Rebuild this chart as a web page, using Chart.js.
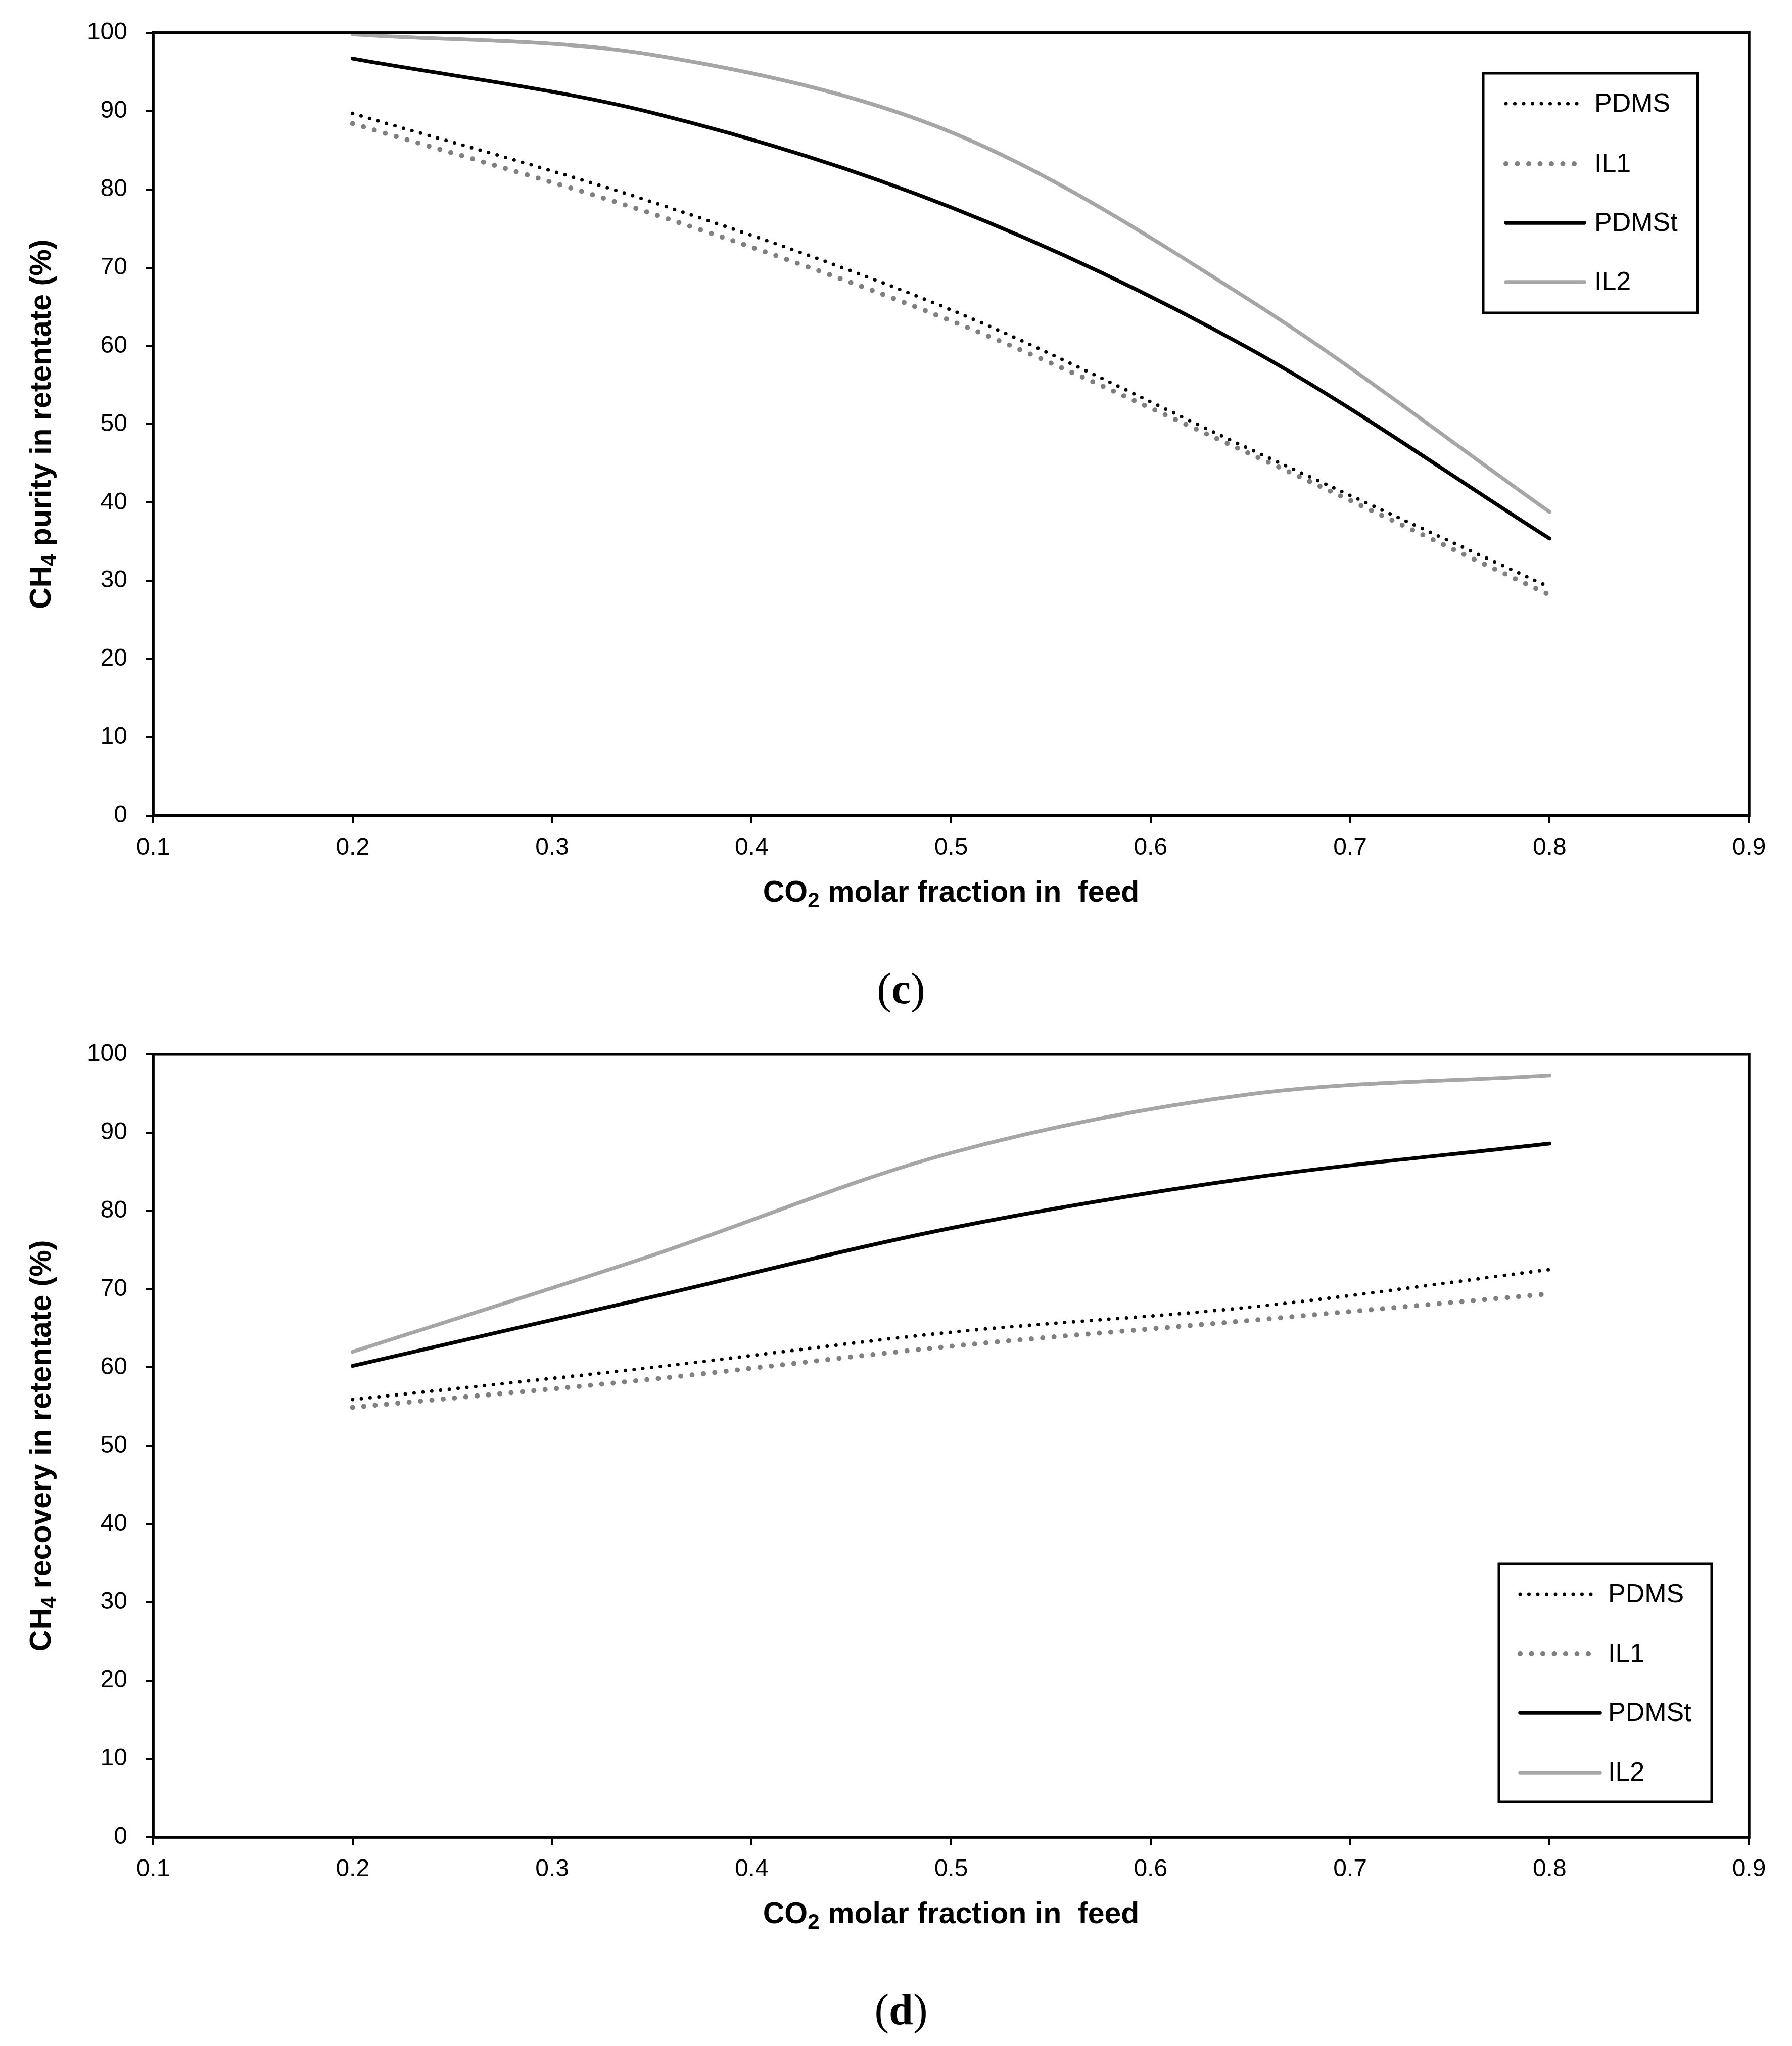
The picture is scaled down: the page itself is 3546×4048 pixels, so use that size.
<!DOCTYPE html>
<html>
<head>
<meta charset="utf-8">
<script src="https://cdn.jsdelivr.net/npm/chart.js@4.4.1/dist/chart.umd.min.js"></script>
<style>
    html, body { margin: 0; padding: 0; background: #fff; }
    body { width: 3546px; height: 4048px; position: relative; overflow: hidden; }
    .panel { position: absolute; left: 0; width: 3546px; height: 1880px; }
    .panel canvas { display: block; }
    .tag {
        position: absolute; width: 400px; margin-left: -200px; text-align: center;
        font-family: "Liberation Serif", "Times New Roman", serif;
        font-size: 86px; line-height: 86px; color: #000;
    }
</style>
</head>
<body>
<div class="panel" style="top:0"><canvas id="purityChart" width="3546" height="1880"></canvas></div>
<div class="tag" style="left:1783px; top:1913px">(<b>c</b>)</div>
<div class="panel" style="top:2021px"><canvas id="recoveryChart" width="3546" height="1880"></canvas></div>
<div class="tag" style="left:1783px; top:3933px">(<b>d</b>)</div>

<script>
// --- Data ---
const co2Fraction = [0.2, 0.35, 0.5, 0.65, 0.8];
const seriesNames = ['PDMS', 'IL1', 'PDMSt', 'IL2'];

const purityPDMS  = [89.7, 78.4, 64.6, 46.8, 29.2];
const purityIL1   = [88.4, 76.9, 63.2, 46.2, 28.2];
const purityPDMSt = [96.7, 89.8, 77.7, 59.6, 35.4];
const purityIL2   = [99.8, 97.2, 87.3, 65.8, 38.8];

const recoveryPDMS  = [55.9, 60.0, 64.5, 67.7, 72.5];
const recoveryIL1   = [54.9, 58.5, 62.7, 66.0, 69.4];
const recoveryPDMSt = [60.2, 69.0, 77.8, 84.2, 88.6];
const recoveryIL2   = [62.0, 74.3, 87.4, 94.9, 97.3];

const xTickValues = [0.1, 0.2, 0.3, 0.4, 0.5, 0.6, 0.7, 0.8, 0.9];
const xTickLabels = ['0.1', '0.2', '0.3', '0.4', '0.5', '0.6', '0.7', '0.8', '0.9'];
const yTickValues = [0, 10, 20, 30, 40, 50, 60, 70, 80, 90, 100];
const yTickLabels = ['0', '10', '20', '30', '40', '50', '60', '70', '80', '90', '100'];

// --- Styles ---
const SANS = '"Liberation Sans", Arial, Helvetica, sans-serif';
const seriesStyles = [
    { borderColor: '#000000', borderWidth: 7, borderDash: [0, 17.5] },
    { borderColor: '#808080', borderWidth: 10, borderDash: [0, 22.5] },
    { borderColor: '#000000', borderWidth: 7.5, borderDash: [] },
    { borderColor: '#a6a6a6', borderWidth: 7.5, borderDash: [] },
];

// draws text made of parts, some of them subscript, centred on cx, baseline at by
function drawSubText(ctx, parts, cx, by) {
    const mainFont = 'bold 59px ' + SANS;
    const subFont = 'bold 42px ' + SANS;
    let total = 0;
    parts.forEach(p => {
        ctx.font = p.sub ? subFont : mainFont;
        p.w = ctx.measureText(p.t).width;
        total += p.w;
    });
    let x = cx - total / 2;
    ctx.fillStyle = '#000';
    ctx.textAlign = 'left';
    ctx.textBaseline = 'alphabetic';
    parts.forEach(p => {
        ctx.font = p.sub ? subFont : mainFont;
        ctx.fillText(p.t, x, p.sub ? by + 11 : by);
        x += p.w;
    });
}

// plot frame and axis titles
const frameTitles = {
    id: 'frameTitles',
    afterDraw(chart, args, opts) {
        const { ctx, chartArea: a } = chart;
        ctx.save();
        ctx.setLineDash([]);
        ctx.strokeStyle = '#000';
        ctx.lineWidth = 5.5;
        ctx.strokeRect(a.left, a.top, a.right - a.left, a.bottom - a.top);
        drawSubText(ctx, opts.xTitle, (a.left + a.right) / 2, a.bottom + opts.xTitleBaseline);
        ctx.translate(opts.yTitleBaseline, (a.top + a.bottom) / 2);
        ctx.rotate(-Math.PI / 2);
        drawSubText(ctx, opts.yTitle, 0, 0);
        ctx.restore();
    }
};

// boxed legend inside the plot
const boxLegend = {
    id: 'boxLegend',
    afterDraw(chart, args, opts) {
        const ctx = chart.ctx;
        ctx.save();
        ctx.setLineDash([]);
        ctx.strokeStyle = '#000';
        ctx.lineWidth = 5;
        ctx.strokeRect(opts.left, opts.top, opts.width, opts.height);
        chart.data.datasets.forEach((ds, i) => {
            const y = opts.rows[i];
            const dotted = ds.borderDash.length > 0;
            ctx.beginPath();
            ctx.lineWidth = ds.borderWidth;
            ctx.strokeStyle = ds.borderColor;
            ctx.lineCap = 'round';
            ctx.setLineDash(ds.borderDash);
            ctx.moveTo(opts.lineStart, y);
            ctx.lineTo(dotted ? opts.lineStart + opts.dotLength : opts.lineStart + opts.lineLength, y);
            ctx.stroke();
            ctx.setLineDash([]);
            ctx.fillStyle = '#000';
            ctx.font = '52px ' + SANS;
            ctx.textAlign = 'left';
            ctx.textBaseline = 'middle';
            ctx.fillText(ds.label, opts.textX, y + 2);
        });
        ctx.restore();
    }
};

function makeChart(canvasId, values, yTitle, legend) {
    const datasets = values.map((vals, i) => ({
        label: seriesNames[i],
        data: vals.map((v, j) => ({ x: co2Fraction[j], y: v })),
        borderColor: seriesStyles[i].borderColor,
        borderWidth: seriesStyles[i].borderWidth,
        borderDash: seriesStyles[i].borderDash,
        borderCapStyle: 'round',
        pointRadius: 0,
        tension: 0.33,
        fill: false,
    }));

    return new Chart(document.getElementById(canvasId), {
        type: 'line',
        data: { datasets },
        plugins: [frameTitles, boxLegend],
        options: {
            responsive: false,
            animation: false,
            devicePixelRatio: 1,
            layout: { padding: { top: 63.5, right: 85, bottom: 0, left: 0 } },
            plugins: {
                legend: { display: false },
                tooltip: { enabled: false },
                frameTitles: {
                    xTitle: [{ t: 'CO' }, { t: '2', sub: true }, { t: ' molar fraction in  feed' }],
                    xTitleBaseline: 170,
                    yTitle: yTitle,
                    yTitleBaseline: 100,
                },
                boxLegend: legend,
            },
            scales: {
                x: {
                    type: 'linear',
                    min: 0.1,
                    max: 0.9,
                    afterBuildTicks: axis => { axis.ticks = xTickValues.map(v => ({ value: v })); },
                    afterFit: axis => { axis.height = 1880 - 1614; },
                    border: { display: true, color: '#000', width: 5.5 },
                    grid: { display: true, drawOnChartArea: false, drawTicks: true, tickLength: 15, color: '#000', lineWidth: 4 },
                    ticks: {
                        autoSkip: false, maxRotation: 0, color: '#000', padding: 20,
                        font: { size: 48, family: SANS },
                        callback: (v, i) => xTickLabels[i],
                    },
                },
                y: {
                    min: 0,
                    max: 100,
                    afterBuildTicks: axis => { axis.ticks = yTickValues.map(v => ({ value: v })); },
                    afterFit: axis => { axis.width = 303; },
                    border: { display: true, color: '#000', width: 5.5 },
                    grid: { display: true, drawOnChartArea: false, drawTicks: true, tickLength: 15, color: '#000', lineWidth: 4 },
                    ticks: {
                        autoSkip: false, color: '#000', padding: 36,
                        font: { size: 48, family: SANS },
                        callback: (v, i) => yTickLabels[i],
                    },
                },
            },
        },
    });
}

makeChart('purityChart',
    [purityPDMS, purityIL1, purityPDMSt, purityIL2],
    [{ t: 'CH' }, { t: '4', sub: true }, { t: ' purity in retentate (%)' }],
    { left: 2935, top: 145, width: 424, height: 474, rows: [205, 324, 441, 558],
      lineStart: 2980, lineLength: 155, dotLength: 144, textX: 3155 });

makeChart('recoveryChart',
    [recoveryPDMS, recoveryIL1, recoveryPDMSt, recoveryIL2],
    [{ t: 'CH' }, { t: '4', sub: true }, { t: ' recovery in retentate (%)' }],
    { left: 2966, top: 1073, width: 421, height: 471, rows: [1133, 1251, 1368, 1486],
      lineStart: 3008, lineLength: 158, dotLength: 146, textX: 3182 });
</script>
</body>
</html>
